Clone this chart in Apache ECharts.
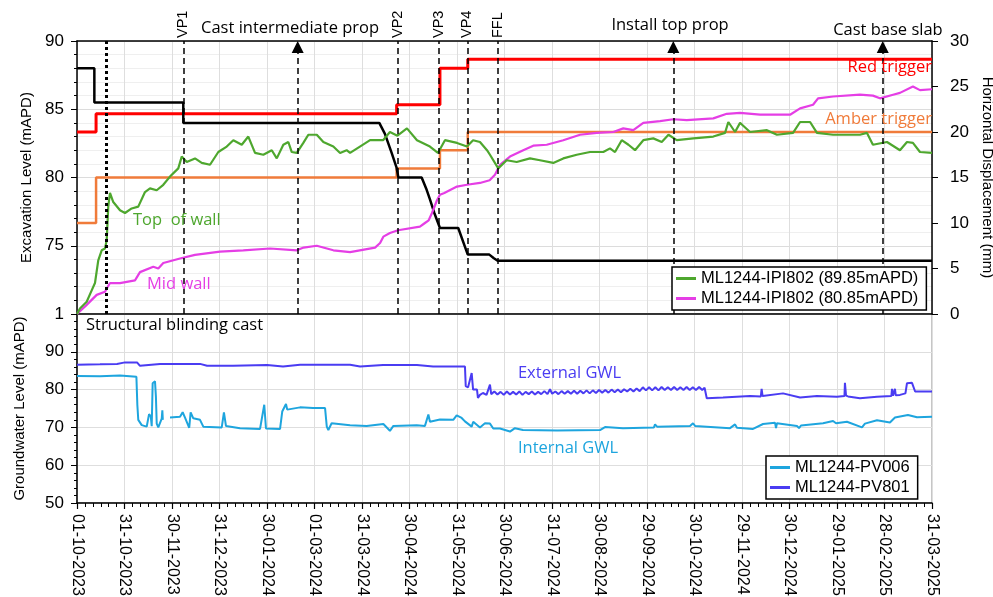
<!DOCTYPE html>
<html><head><meta charset="utf-8">
<script src="https://cdn.jsdelivr.net/npm/echarts@6/dist/echarts.min.js"></script>
<style>html,body{margin:0;padding:0;background:#fff}#c{width:993px;height:597px}</style>
</head><body><div id="c"></div>
<script>
const FONT = '"Liberation Sans", Arial, sans-serif';
const FONT_ANN = '"Open Sans", "Liberation Sans", sans-serif';

// x axis: days since 01-10-2023
const X_MAX_DAY = 547;
const xTickLabels = ['01-10-2023','31-10-2023','30-11-2023','31-12-2023','30-01-2024','01-03-2024','31-03-2024','30-04-2024','31-05-2024','30-06-2024','31-07-2024','30-08-2024','29-09-2024','30-10-2024','29-11-2024','30-12-2024','29-01-2025','28-02-2025','31-03-2025'];

// Excavation level (mAPD) - left axis
const excavationLevel = [[0,88],[11.1,88],[11.1,85.5],[68,85.5],[68,84],[193.4,84],[197.0,83.2],[201.3,81.8],[204.5,80.7],[205.6,80],[220.5,80],[223.7,79.1],[225.8,78.4],[228.6,77.4],[232.2,76.3],[243.9,76.3],[250.0,74.35],[263.8,74.35],[266.5,74.1],[269.1,73.9],[547,73.9]];

// Trigger levels (mm) - right axis
const redTrigger = [[0,20],[12.2,20],[12.2,22],[204.5,22],[204.5,23],[232.2,23],[232.2,27],[250,27],[250,28],[547,28]];
const amberTrigger = [[0,10],[12.2,10],[12.2,15],[204.5,15],[204.5,16],[232.2,16],[232.2,18],[250,18],[250,20],[547,20]];

// Inclinometer displacement (mm)
const topOfWall = [[0,0],[1.9,0.6],[6.2,1.35],[9.4,2.6],[11.5,3.4],[13.6,5.9],[15.8,7.0],[17.9,7.2],[19.0,8.1],[20.0,11.8],[21.1,13.3],[23.2,12.3],[27.5,11.4],[30.7,11.1],[35.0,11.6],[39.2,11.8],[43.5,13.4],[46.7,13.8],[51.0,13.6],[55.2,14.2],[59.5,15.1],[64.8,16.0],[67.0,17.3],[70.2,16.7],[75.5,17.1],[79.8,16.6],[85.1,16.4],[90.4,17.8],[95.8,18.4],[100.0,19.1],[105.4,18.6],[109.6,19.5],[113.9,17.7],[119.2,17.5],[124.6,18.0],[127.8,17.1],[132.0,18.6],[135.2,18.9],[137.4,17.8],[140.6,17.7],[144.8,18.8],[148.0,19.7],[153.4,19.7],[157.6,18.9],[164.0,18.4],[168.3,17.7],[172.5,18.0],[174.7,17.7],[181,18.4],[187.5,19.1],[195.8,19.1],[200.2,20.0],[205,19.6],[211.1,20.4],[217.5,19.1],[225.8,18.4],[230.9,17.7],[235.4,19.1],[243.1,18.8],[249.5,18.4],[253.4,19.1],[257.8,18.9],[262.3,18.0],[264.2,17.5],[269.5,16.0],[274.9,16.9],[281.3,16.7],[289.8,17.1],[296.2,16.9],[304.7,16.6],[311.1,17.1],[319.7,17.5],[328.2,17.8],[336.7,17.8],[341.0,18.2],[344.2,17.8],[348.5,19.1],[352.8,18.6],[357.0,18.0],[362.3,19.1],[368.7,19.3],[374.1,18.9],[378.4,19.7],[383.7,19.1],[394.3,19.3],[407.1,19.5],[414.6,19.9],[416.7,21.1],[421.0,20.0],[424.2,21.0],[425.5,20.8],[430.6,20.0],[441.4,20.2],[447.8,19.7],[458.1,19.9],[462.6,21.1],[469.0,21.1],[473.4,19.9],[483.7,19.7],[500.9,19.7],[505.4,19.9],[509.2,18.6],[518.2,18.9],[526.5,18.0],[531.0,18.9],[534.8,18.8],[539.3,17.8],[547,17.7]];
const midWall = [[0,0],[6.2,1.0],[12.6,2.1],[17.9,2.45],[21.1,3.4],[27.5,3.4],[37.1,3.7],[40.3,4.6],[48.8,5.2],[52.0,5.0],[55.2,5.6],[65.9,6.1],[75.5,6.5],[91.5,6.85],[106.4,7.0],[123.5,7.2],[140.6,7.0],[145,7.3],[153.4,7.5],[164.0,7.0],[174.7,6.8],[190.7,7.3],[193.9,7.8],[196,8.5],[200.2,8.9],[205.4,9.2],[219.4,9.6],[222.6,10.0],[225,10.3],[227.1,11.1],[230.3,12.5],[232.2,13.1],[235,13.3],[243.1,14.0],[249.5,14.2],[257.8,14.4],[264,14.7],[267.4,15.3],[270.6,16.4],[277.0,17.3],[285.5,18.0],[291.9,18.5],[300.5,18.6],[311.1,19.1],[321.8,19.7],[332.5,19.9],[343.1,20.0],[349.5,20.4],[355.9,20.2],[362.3,21.0],[373.0,21.2],[381.5,21.4],[390.1,21.3],[407.1,21.5],[415.7,22.0],[424.2,22.1],[437.0,21.9],[456.2,21.9],[462.6,22.6],[470.9,23.0],[474.1,23.7],[483.7,23.9],[500.9,24.1],[509.2,24.0],[513.7,23.7],[522.1,24.1],[526.5,24.3],[534.8,25.0],[539.3,24.6],[547,24.7]];

// Groundwater levels (mAPD)
const pv006 = [[0,83.6],[14.7,83.5],[27.5,83.7],[38.0,83.4],[38.6,76],[39.2,72.0],[41.4,70.6],[44.6,70.2],[45.4,70.6],[46.1,73.5],[47.2,72.9],[47.8,70.3],[48.4,81.7],[49.9,82.2],[50.5,78],[51.0,71.0],[52.0,70.0],[54.2,72.3],[54.6,74.5],[54.9,72],[57,'-'],[59.5,72.6],[65.9,72.8],[67.6,74.0],[69.1,72.6],[71.8,69.9],[72.7,74.0],[74.4,72.4],[78.7,72.0],[80.8,70.2],[92.6,70.0],[94.0,74.0],[95.3,70.4],[104.3,69.8],[117.1,69.6],[119.8,76.0],[120.9,69.7],[129.9,69.6],[131.3,74.2],[133.7,76.2],[134.5,74.7],[142.7,75.3],[151.0,75.1],[158.7,75.1],[159.8,70.2],[160.8,69.3],[162.9,71.1],[174.7,70.6],[185.3,70.4],[196.0,70.9],[200.2,69.1],[202.4,70.4],[217.3,70.6],[222.6,70.4],[224.8,73.4],[225.8,71.5],[232.2,72.1],[240.7,72.0],[242.9,73.2],[246.1,72.5],[248.2,71.6],[252.5,70.2],[253.5,71.5],[257.8,70.0],[261.0,71.1],[264.2,71.0],[266.3,69.7],[270.6,69.7],[277.0,68.9],[280.2,69.8],[285.3,69.3],[307.1,69.2],[334.6,69.3],[337.8,70.1],[349.3,69.8],[369.1,70.0],[369.8,70.8],[371.1,70.2],[392.2,70.4],[394.1,71.1],[395.4,70.4],[417.8,69.8],[421.0,70.8],[422.2,69.9],[432.5,69.6],[438.9,70.9],[446.6,71.2],[447.2,69.8],[447.8,71.1],[460.6,70.4],[461.9,69.8],[463.2,70.5],[477.3,71.1],[483.7,71.7],[485.6,71.1],[492.6,71.5],[502.2,70.0],[504.1,71.0],[511.8,71.9],[520.1,71.3],[523.3,72.6],[531.6,73.3],[537.4,72.7],[547,72.8]];
const pv801 = [[0,86.6],[14.7,86.7],[25.6,86.8],[30.7,87.2],[38.4,87.2],[40.3,86.3],[53.1,86.8],[78.7,86.8],[83.2,86.3],[99.8,86.3],[121.6,86.5],[131.8,86.1],[142.7,86.6],[174.7,86.6],[181.1,86.1],[195.8,86.5],[217.5,86.5],[227.8,86.1],[248.2,86.1],[248.7,80.9],[250.2,80.6],[252.5,84.4],[253.4,80.0],[255.9,80.0],[256.5,77.8],[257.8,78.6],[259.7,79.1],[262,78.6],[264.2,81.3],[265,78.8],[267,79.5],[269,78.7],[271,79.4],[273,78.6],[275,79.5],[277,78.7],[279,79.4],[281,78.7],[283,79.5],[285,78.6],[287,79.4],[289,78.8],[291,79.5],[293,78.7],[295,79.4],[297,78.8],[299,79.6],[301,78.8],[302.6,80.1],[304,78.9],[306,79.5],[308,78.8],[310,79.6],[312,78.9],[314,79.6],[316,78.9],[318,79.7],[320,78.9],[322,79.7],[324,79.0],[326,79.8],[328,79.0],[330,79.8],[332,79.1],[334,79.9],[336,79.2],[338,79.9],[340,79.2],[342,80.0],[344,79.3],[346,80.0],[348,79.3],[350,80.1],[352,79.5],[354,80.2],[356,79.5],[358,80.3],[360,79.6],[362,80.6],[364,79.8],[366,80.6],[368,79.8],[370,80.6],[372,79.8],[374,80.7],[376,79.9],[378,80.6],[380,79.9],[382,80.7],[384,79.9],[386,80.6],[388,79.9],[390,80.7],[392,79.9],[394,80.6],[396,79.9],[398,80.7],[400,79.9],[401.5,80.5],[402.9,77.7],[413.3,77.9],[430.6,78.3],[437.5,78.2],[438,80.2],[438.6,78.3],[451.7,79.0],[462.6,77.9],[473.4,78.3],[486.2,78.1],[491,78.3],[491.3,81.8],[492,78.4],[493.3,78.2],[500.9,77.7],[511.8,78.1],[521,78.3],[521.4,80.2],[522,78.4],[523,78.3],[523.3,80.2],[523.8,78.5],[526.5,78.6],[530,79.0],[531,81.7],[534.2,81.8],[536.2,79.5],[547,79.5]];

// Construction events (day)
const stageEvents = [{name:'VP1',day:68},{name:'VP2',day:205.2},{name:'VP3',day:231.6},{name:'VP4',day:249.7},{name:'FFL',day:269.5}];
const propEvents = [{name:'Cast intermediate prop',day:141.2},{name:'Install top prop',day:381.5},{name:'Cast base slab',day:515.5}];
const blindingEvent = {name:'Structural blinding cast',day:18.4};

const S_TOP = 'ML1244-IPI802 (89.85mAPD)';
const S_MID = 'ML1244-IPI802 (80.85mAPD)';
const S_006 = 'ML1244-PV006';
const S_801 = 'ML1244-PV801';

const C_GREEN='#4ea72e', C_MAG='#e53ee5', C_RED='#ff0000', C_AMB='#f07b3a', C_006='#1ea5de', C_801='#4a3cf2';

const xInterval = X_MAX_DAY/18;
const gridLine = {show:true, lineStyle:{color:'#dedede', width:1}};

const chart = echarts.init(document.getElementById('c'), null, {renderer:'canvas'});
const option = {
  animation:false,
  backgroundColor:'#fff',
  textStyle:{fontFamily:FONT},
  grid:[
    {left:77, right:61, top:41, height:273, containLabel:false, outerBoundsMode:'none'},
    {left:77, right:61, top:314, height:189, containLabel:false, outerBoundsMode:'none', show:true, borderColor:'#8c8c8c', borderWidth:1, backgroundColor:'transparent'}
  ],
  xAxis:[
    {type:'value', gridIndex:0, min:0, max:X_MAX_DAY, interval:xInterval, position:'bottom',
     axisLine:{show:true, onZero:false, lineStyle:{color:'#000', width:1.5}}, axisTick:{show:false}, axisLabel:{show:false}, splitLine:gridLine},
    {type:'value', gridIndex:0, min:0, max:X_MAX_DAY, interval:xInterval, position:'top',
     axisLine:{show:true, onZero:false, lineStyle:{color:'#000', width:1.5}}, axisTick:{show:false}, axisLabel:{show:false}, splitLine:{show:false}},
    {type:'value', gridIndex:1, min:0, max:X_MAX_DAY, interval:xInterval, position:'bottom',
     axisLine:{show:true, onZero:false, lineStyle:{color:'#000', width:1.5}},
     axisTick:{show:true, length:6, lineStyle:{color:'#000', width:1.2}},
     minorTick:{show:true, splitNumber:6, length:4, lineStyle:{color:'#000', width:1}},
     axisLabel:{show:true, rotate:-90, margin:11, fontSize:16, color:'#000', fontFamily:FONT,
       formatter:v=>xTickLabels[Math.round(v/xInterval)] || ''},
     splitLine:gridLine}
  ],
  yAxis:[
    {type:'value', gridIndex:0, min:70, max:90, interval:5, position:'left',
     name:'Excavation Level (mAPD)', nameLocation:'middle', nameGap:41, nameTextStyle:{fontSize:15, color:'#000', fontFamily:FONT},
     axisLine:{show:true, onZero:false, lineStyle:{color:'#000', width:1.5}},
     axisTick:{show:true, length:6, lineStyle:{color:'#000'}},
     minorTick:{show:true, splitNumber:5, length:3, lineStyle:{color:'#000'}},
     axisLabel:{fontSize:17, color:'#000', margin:13, fontFamily:FONT, formatter:v=> v===70 ? '1' : String(v)},
     splitLine:{show:true, lineStyle:{color:'#dcdcdc'}},
     minorSplitLine:{show:true, lineStyle:{color:'#efefef'}}},
    {type:'value', gridIndex:0, min:0, max:30, interval:5, position:'right',
     name:'Horizontal Displacement (mm)', nameLocation:'middle', nameGap:44, nameRotate:-90, nameTextStyle:{fontSize:15, color:'#000', fontFamily:FONT},
     axisLine:{show:true, onZero:false, lineStyle:{color:'#000', width:1.5}},
     axisTick:{show:true, length:6, lineStyle:{color:'#000'}},
     axisLabel:{fontSize:17, color:'#000', margin:18, fontFamily:FONT},
     splitLine:{show:false}},
    {type:'value', gridIndex:1, min:50, max:100, interval:10, position:'left',
     name:'Groundwater Level (mAPD)', nameLocation:'middle', nameGap:50, nameTextStyle:{fontSize:15, color:'#000', fontFamily:FONT},
     axisLine:{show:true, onZero:false, lineStyle:{color:'#000', width:1.5}},
     axisTick:{show:true, length:6, lineStyle:{color:'#000'}},
     minorTick:{show:true, splitNumber:5, length:3, lineStyle:{color:'#000'}},
     axisLabel:{fontSize:17, color:'#000', margin:13, fontFamily:FONT, formatter:v=> v===100 ? '' : String(v)},
     splitLine:{show:true, lineStyle:{color:'#dedede'}}}
  ],
  legend:[
    {data:[S_TOP,S_MID], orient:'vertical', left:672, top:267, itemGap:3, itemWidth:20, itemHeight:3, icon:'rect',
     padding:[3,8,3,4], borderColor:'#000', borderWidth:1.5, backgroundColor:'#fff', borderRadius:0,
     textStyle:{fontSize:16.5, color:'#000', fontFamily:FONT}, selectedMode:false, z:10},
    {data:[S_006,S_801], orient:'vertical', left:766, top:456, itemGap:3, itemWidth:20, itemHeight:3, icon:'rect',
     padding:[3,8,3,4], borderColor:'#000', borderWidth:1.5, backgroundColor:'#fff', borderRadius:0,
     textStyle:{fontSize:16.5, color:'#000', fontFamily:FONT}, selectedMode:false, z:10}
  ],
  series:[
    {name:'Amber trigger', type:'line', xAxisIndex:0, yAxisIndex:1, data:amberTrigger, showSymbol:false, lineStyle:{color:C_AMB, width:2.5}, itemStyle:{color:C_AMB}, z:3},
    {name:'Red trigger', type:'line', xAxisIndex:0, yAxisIndex:1, data:redTrigger, showSymbol:false, lineStyle:{color:C_RED, width:3}, itemStyle:{color:C_RED}, z:3},
    {name:'Excavation level', type:'line', xAxisIndex:0, yAxisIndex:0, data:excavationLevel, showSymbol:false, lineStyle:{color:'#000', width:2.5}, itemStyle:{color:'#000'}, z:3},
    {name:S_MID, type:'line', xAxisIndex:0, yAxisIndex:1, data:midWall, showSymbol:false, lineStyle:{color:C_MAG, width:2.2}, itemStyle:{color:C_MAG}, z:4},
    {name:S_TOP, type:'line', xAxisIndex:0, yAxisIndex:1, data:topOfWall, showSymbol:false, lineStyle:{color:C_GREEN, width:2.2}, itemStyle:{color:C_GREEN}, z:4},
    {name:'stage lines', type:'line', xAxisIndex:0, yAxisIndex:1, data:[], z:5,
     markLine:{silent:true, symbol:['none','none'], label:{show:false}, lineStyle:{color:'#000', type:[6,4], width:1.5},
       data: stageEvents.map(e=>[{coord:[e.day,0]},{coord:[e.day,30]}])}},
    {name:'prop lines', type:'line', xAxisIndex:0, yAxisIndex:1, data:[], z:5,
     markLine:{silent:true, symbol:['none','triangle'], symbolSize:12, label:{show:false}, lineStyle:{color:'#000', type:[6,4], width:1.5},
       data: propEvents.map(e=>[{coord:[e.day,0]},{coord:[e.day,29.35]}])}},
    {name:'blinding line', type:'line', xAxisIndex:0, yAxisIndex:1, data:[], z:5,
     markLine:{silent:true, symbol:['none','none'], label:{show:false}, lineStyle:{color:'#000', type:[3,3], width:3},
       data: [[{coord:[blindingEvent.day,0]},{coord:[blindingEvent.day,30]}]]}},
    {name:S_006, type:'line', xAxisIndex:2, yAxisIndex:2, data:pv006, showSymbol:false, connectNulls:false, lineStyle:{color:C_006, width:2}, itemStyle:{color:C_006}, z:3},
    {name:S_801, type:'line', xAxisIndex:2, yAxisIndex:2, data:pv801, showSymbol:false, lineStyle:{color:C_801, width:2}, itemStyle:{color:C_801}, z:3}
  ]
};
chart.setOption(option);

// Annotations placed in data coordinates
const topAnnotations = [
  {text:'Top  of wall', day:35.8, value:10.25, color:C_GREEN, align:'left'},
  {text:'Mid wall', day:44.8, value:3.3, color:C_MAG, align:'left'},
  {text:'Red trigger', day:547, value:27.07, color:C_RED, align:'right'},
  {text:'Amber trigger', day:547, value:21.4, color:C_AMB, align:'right'}
];
const bottomAnnotations = [
  {text:'Structural blinding cast', day:5.8, value:97.0, color:'#000', align:'left'},
  {text:'External GWL', day:282.1, value:84.4, color:C_801, align:'left'},
  {text:'Internal GWL', day:282.1, value:64.5, color:C_006, align:'left'}
];
const propLabelPos = [{day:136.3, value:31.4},{day:379.4, value:31.76},{day:518.8, value:31.2}];
const stageLabelValue = 30.33;

const TOP = {xAxisIndex:0, yAxisIndex:1};
const BOT = {xAxisIndex:2, yAxisIndex:2};
const graphics = [];
function addText(p, text, color, align, font, rot){
  graphics.push({type:'text', x:p[0], y:p[1], rotation:rot||0, z:20, silent:true,
    style:{text:text, fill:color, font:font, textAlign:align, textVerticalAlign:'middle', align:align, verticalAlign:'middle'}});
}
const annFont = '16.5px ' + FONT_ANN;
topAnnotations.forEach(a=>addText(chart.convertToPixel(TOP,[a.day,a.value]), a.text, a.color, a.align, annFont));
bottomAnnotations.forEach(a=>addText(chart.convertToPixel(BOT,[a.day,a.value]), a.text, a.color, a.align, annFont));
propEvents.forEach((e,i)=>addText(chart.convertToPixel(TOP,[propLabelPos[i].day, propLabelPos[i].value]), e.name, '#000', 'center', annFont));
stageEvents.forEach(e=>addText(chart.convertToPixel(TOP,[e.day, stageLabelValue]), e.name, '#000', 'left', '14.5px '+FONT, Math.PI/2));
chart.setOption({graphic:{elements:graphics}});
</script>
</body></html>
